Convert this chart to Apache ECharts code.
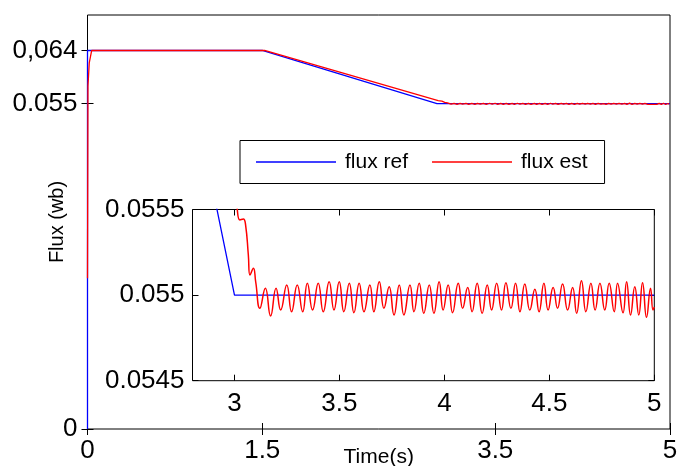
<!DOCTYPE html>
<html>
<head>
<meta charset="utf-8">
<script src="https://cdn.jsdelivr.net/npm/echarts@6/dist/echarts.min.js"></script>
<style>
  html, body { margin: 0; padding: 0; background: #fff; }
  #chart { width: 679px; height: 466px; }
</style>
</head>
<body>
<div id="chart"></div>
<script>
// Reference flux: step to 0.064 Wb, ramp down to 0.055 Wb between 1.5 s and 3 s
const refTime = [0, 0, 1.5, 3.0, 5];
const refFlux = [0, 0.064, 0.064, 0.055, 0.055];

// Estimated flux: start-up, lagging ramp, then ripple around the 0.055 Wb set point
const estTime = [
  0, 0.004, 0.015, 0.036, 1.52,
  3.010, 3.026, 3.042, 3.053, 3.066, 3.074, 3.090, 3.101,
  3.121, 3.147, 3.172, 3.198, 3.220, 3.249, 3.272, 3.299, 3.325, 3.347,
  3.372, 3.399, 3.423, 3.451, 3.474, 3.499, 3.521, 3.547, 3.569, 3.594,
  3.617, 3.645, 3.664, 3.690, 3.712, 3.737, 3.760, 3.785, 3.807, 3.836,
  3.855, 3.880, 3.902, 3.928, 3.950, 3.975, 3.994, 4.018, 4.039, 4.066,
  4.087, 4.111, 4.132, 4.156, 4.180, 4.204, 4.225, 4.249, 4.272, 4.293,
  4.317, 4.339, 4.360, 4.383, 4.407, 4.431, 4.451, 4.474, 4.494, 4.518,
  4.539, 4.563, 4.587, 4.611, 4.630, 4.653, 4.674, 4.698, 4.718, 4.741,
  4.764, 4.785, 4.809, 4.825, 4.851, 4.868, 4.887, 4.907, 4.926, 4.944,
  4.963, 4.982, 4.994, 5.0
];
const estFlux = [
  0.0255, 0.058, 0.0619, 0.064, 0.064,
  0.055526, 0.055439, 0.055445, 0.055409, 0.055234, 0.055117, 0.055157, 0.055078,
  0.054923, 0.055040, 0.054878, 0.055040, 0.054913, 0.055059, 0.054903, 0.055059, 0.054903, 0.055069,
  0.054913, 0.055069, 0.054903, 0.055078, 0.054913, 0.055078, 0.054903, 0.055069, 0.054897, 0.055069,
  0.054903, 0.055059, 0.054903, 0.055078, 0.054923, 0.055049, 0.054884, 0.055059, 0.054884, 0.055059,
  0.054903, 0.055069, 0.054894, 0.055059, 0.054894, 0.055078, 0.054913, 0.055059, 0.054897, 0.055069,
  0.054923, 0.055045, 0.054903, 0.055069, 0.054894, 0.055059, 0.054913, 0.055069, 0.054913, 0.055072,
  0.054923, 0.055069, 0.054903, 0.055065, 0.054913, 0.055034, 0.054903, 0.055069, 0.054913, 0.055045,
  0.054923, 0.055065, 0.054913, 0.055045, 0.054894, 0.055084, 0.054903, 0.055069, 0.054913, 0.055069,
  0.054913, 0.055069, 0.054903, 0.055069, 0.054897, 0.055078, 0.054884, 0.055049, 0.054884, 0.055072,
  0.054870, 0.055040, 0.054913, 0.054930
];

// Tick positions and their printed labels
const mainXTicks = [0, 1.5, 3.5, 5];
const mainXTickLabels = ['0', '1.5', '3.5', '5'];
const mainYTicks = [0, 0.055, 0.064];
const mainYTickLabels = ['0', '0.055', '0,064'];
const insetXTicks = [3, 3.5, 4, 4.5, 5];
const insetXTickLabels = ['3', '3.5', '4', '4.5', '5'];
const insetYTicks = [0.0545, 0.055, 0.0555];
const insetYTickLabels = ['0.0545', '0.055', '0.0555'];

const FONT = '"Liberation Sans", Arial, Helvetica, sans-serif';
const BLUE = '#0000ff';
const RED = '#ff0000';

function pairs(xs, ys) { return xs.map((x, i) => [x, ys[i]]); }
function labelFor(ticks, labels) {
  return v => {
    for (let i = 0; i < ticks.length; i++) {
      if (Math.abs(v - ticks[i]) < 1e-9) return labels[i];
    }
    return '';
  };
}

function valueAxis(opts) {
  const showLabels = opts.labels !== undefined;
  return Object.assign({
    type: 'value',
    min: opts.min, max: opts.max,
    gridIndex: opts.grid,
    position: opts.position,
    axisLine: { show: false },
    splitLine: { show: false },
    axisTick: {
      show: true, inside: true, length: 6,
      customValues: opts.ticks,
      lineStyle: { color: '#000', width: 1 }
    },
    axisLabel: showLabels ? {
      show: true,
      customValues: opts.ticks,
      formatter: labelFor(opts.ticks, opts.labels),
      color: '#000', fontSize: 26, fontFamily: FONT,
      margin: opts.margin
    } : { show: false }
  }, opts.extra || {});
}

const chart = echarts.init(document.getElementById('chart'), null, { renderer: 'canvas' });

chart.setOption({
  animation: false,
  backgroundColor: '#fff',
  textStyle: { fontFamily: FONT },
  grid: [
    { left: 87.5, right: 9, top: 15, bottom: 37, show: true, containLabel: false,
      outerBoundsMode: 'none',
      borderColor: '#000', borderWidth: 1, backgroundColor: '#fff' },
    { left: 192.5, right: 24.7, top: 209.5, bottom: 85.3, show: true, containLabel: false,
      outerBoundsMode: 'none',
      borderColor: '#000', borderWidth: 1, backgroundColor: '#fff', z: 3 }
  ],
  legend: {
    left: 240, top: 140.5,
    padding: [11, 17, 11, 16],
    borderColor: '#000', borderWidth: 1,
    backgroundColor: '#fff',
    icon: 'rect', itemWidth: 80, itemHeight: 1.5, itemGap: 24,
    textStyle: { fontSize: 21, color: '#000', fontFamily: FONT, padding: [0, 0, 0, 4] },
    data: ['flux ref', 'flux est'],
    z: 5
  },
  xAxis: [
    valueAxis({ grid: 0, position: 'bottom', min: 0, max: 5, ticks: mainXTicks,
      labels: mainXTickLabels, margin: 9,
      extra: { name: 'Time(s)', nameLocation: 'middle', nameGap: 18, nameMoveOverlap: false,
        nameTextStyle: { fontSize: 21, color: '#000', fontFamily: FONT } } }),
    valueAxis({ grid: 0, position: 'top', min: 0, max: 5, ticks: mainXTicks }),
    valueAxis({ grid: 1, position: 'bottom', min: 2.8, max: 5, ticks: insetXTicks,
      labels: insetXTickLabels, margin: 10, extra: { z: 4 } }),
    valueAxis({ grid: 1, position: 'top', min: 2.8, max: 5, ticks: insetXTicks, extra: { z: 4 } })
  ],
  yAxis: [
    valueAxis({ grid: 0, position: 'left', min: 0, max: 0.07, ticks: mainYTicks,
      labels: mainYTickLabels, margin: 10,
      extra: { name: 'Flux (wb)', nameLocation: 'middle', nameGap: 20, nameMoveOverlap: false,
        nameTextStyle: { fontSize: 20, color: '#000', fontFamily: FONT } } }),
    valueAxis({ grid: 0, position: 'right', min: 0, max: 0.07, ticks: mainYTicks }),
    valueAxis({ grid: 1, position: 'left', min: 0.0545, max: 0.0555, ticks: insetYTicks,
      labels: insetYTickLabels, margin: 8, extra: { z: 4 } }),
    valueAxis({ grid: 1, position: 'right', min: 0.0545, max: 0.0555, ticks: insetYTicks, extra: { z: 4 } })
  ],
  series: [
    { name: 'flux ref', type: 'line', xAxisIndex: 0, yAxisIndex: 0,
      data: pairs(refTime, refFlux), showSymbol: false, symbol: 'none',
      color: BLUE, lineStyle: { color: BLUE, width: 1.3 }, z: 2 },
    { name: 'flux est', type: 'line', xAxisIndex: 0, yAxisIndex: 0,
      data: pairs(estTime, estFlux), showSymbol: false, symbol: 'none',
      color: RED, lineStyle: { color: RED, width: 1.3 }, z: 2 },
    { name: 'flux ref', type: 'line', xAxisIndex: 2, yAxisIndex: 2,
      data: pairs(refTime, refFlux), showSymbol: false, symbol: 'none',
      color: BLUE, lineStyle: { color: BLUE, width: 1.3 }, z: 4 },
    { name: 'flux est', type: 'line', xAxisIndex: 2, yAxisIndex: 2,
      data: pairs(estTime, estFlux), showSymbol: false, symbol: 'none',
      smooth: 0.5,
      color: RED, lineStyle: { color: RED, width: 1.5 }, z: 4 }
  ]
});
</script>
</body>
</html>
